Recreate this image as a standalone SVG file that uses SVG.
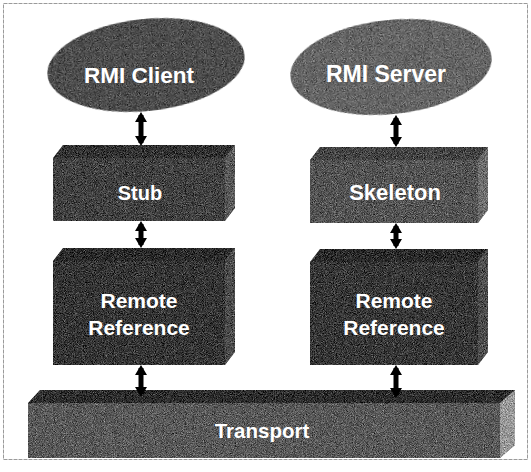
<svg xmlns="http://www.w3.org/2000/svg" width="531" height="472" viewBox="0 0 531 472">
<style>
.lbl{font-family:"Liberation Sans",Arial,sans-serif;font-weight:bold;fill:#ffffff;text-anchor:middle}
.conn{stroke:#000;stroke-width:5;fill:none}
.front{filter:url(#grain)}
</style>
<defs>
<filter id="grain" x="0" y="0" width="100%" height="100%" color-interpolation-filters="sRGB">
<feTurbulence type="fractalNoise" baseFrequency="1.1" numOctaves="2" seed="7" result="t"/>
<feColorMatrix in="t" type="matrix" values="0.33 0.33 0.33 0 0  0.33 0.33 0.33 0 0  0.33 0.33 0.33 0 0  0 0 0 0 1" result="g"/>
<feComposite in="SourceGraphic" in2="g" operator="arithmetic" k1="0" k2="1" k3="1.3" k4="-0.65" result="m"/>
<feComposite in="m" in2="SourceGraphic" operator="in"/>
</filter>
<marker id="ah" viewBox="0 0 10 12" refX="7" refY="6" markerWidth="10" markerHeight="12" markerUnits="userSpaceOnUse" orient="auto-start-reverse">
<path d="M0,0 L10,6 L0,12 z" fill="#000"/>
</marker>
</defs>
<rect x="3.5" y="3.5" width="524" height="456" fill="#fff" stroke="#9a9a9a" stroke-width="1" stroke-dasharray="4 1"/>

<g id="rmi-client">
<ellipse class="front" cx="146" cy="65" rx="99" ry="46" transform="rotate(-6 146 65)" fill="#4e4e4e"/>
<text class="lbl" x="139" y="83" font-size="22.5">RMI Client</text>
</g>

<g id="rmi-server">
<ellipse class="front" cx="391" cy="67" rx="101" ry="47" transform="rotate(-6 391 67)" fill="#666"/>
<text class="lbl" x="386" y="82" font-size="23">RMI Server</text>
</g>

<g id="stub">
<polygon class="front" points="63,145 235,145 225,158 53,158" fill="#333"/>
<rect class="front" x="53" y="158" width="172" height="63" fill="#424242"/>
<polygon class="front" points="225,158 235,145 235,208 225,221" fill="#5a5a5a"/>
<text class="lbl" x="140" y="200" font-size="20">Stub</text>
</g>

<g id="skeleton">
<polygon class="front" points="320,147 488,147 478,160 310,160" fill="#444"/>
<rect class="front" x="310" y="160" width="168" height="63" fill="#555"/>
<polygon class="front" points="478,160 488,147 488,210 478,223" fill="#6e6e6e"/>
<text class="lbl" x="395" y="200" font-size="22">Skeleton</text>
</g>

<g id="remote-ref-client">
<polygon class="front" points="63,248 235,248 225,261 53,261" fill="#2c2c2c"/>
<rect class="front" x="53" y="261" width="172" height="104" fill="#363636"/>
<polygon class="front" points="225,261 235,248 235,352 225,365" fill="#4c4c4c"/>
<text class="lbl" x="139" y="308" font-size="21">Remote</text>
<text class="lbl" x="139" y="335" font-size="21">Reference</text>
</g>

<g id="remote-ref-server">
<polygon class="front" points="320,249 488,249 478,262 310,262" fill="#2c2c2c"/>
<rect class="front" x="310" y="262" width="168" height="103" fill="#383838"/>
<polygon class="front" points="478,262 488,249 488,352 478,365" fill="#4e4e4e"/>
<text class="lbl" x="394" y="308" font-size="21">Remote</text>
<text class="lbl" x="394" y="335" font-size="21">Reference</text>
</g>

<g id="transport">
<polygon class="front" points="40,390 515,390 500,403 28,403" fill="#2e2e2e"/>
<rect class="front" x="28" y="403" width="472" height="55" fill="#5a5a5a"/>
<polygon class="front" points="500,403 515,390 515,445 500,458" fill="#9a9a9a"/>
<text class="lbl" x="262" y="438" font-size="20.5">Transport</text>
</g>

<g id="connectors">
<line class="conn" x1="141" y1="115" x2="141" y2="143" marker-start="url(#ah)" marker-end="url(#ah)"/>
<line class="conn" x1="396" y1="118" x2="396" y2="144" marker-start="url(#ah)" marker-end="url(#ah)"/>
<line class="conn" x1="141" y1="224" x2="141" y2="245" marker-start="url(#ah)" marker-end="url(#ah)"/>
<line class="conn" x1="396" y1="226" x2="396" y2="246" marker-start="url(#ah)" marker-end="url(#ah)"/>
<line class="conn" x1="141" y1="368" x2="141" y2="394" marker-start="url(#ah)" marker-end="url(#ah)"/>
<line class="conn" x1="396" y1="368" x2="396" y2="395" marker-start="url(#ah)" marker-end="url(#ah)"/>
</g>
</svg>
